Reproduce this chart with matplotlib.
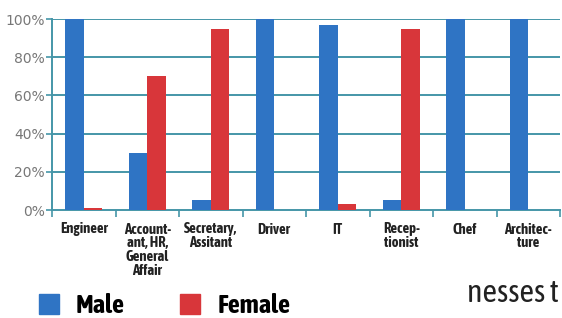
import matplotlib
matplotlib.use("Agg")
import matplotlib.pyplot as plt
from matplotlib.patches import Patch
from matplotlib import font_manager
import numpy as np

categories = ["Engineer", "Account-\nant, HR,\nGeneral\nAffair", "Secretary,\nAssitant", "Driver",
              "IT", "Recep-\ntionist", "Chef", "Architec-\nture"]
male = [100, 30, 5, 100, 97, 5, 100, 100]
female = [1, 70, 95, 0, 3, 95, 0, 0]
yticks = [0, 20, 40, 60, 80, 100]
ytick_labels = ["0%", "20%", "40%", "60%", "80%", "100%"]

BLUE = "#2f74c4"
RED = "#d8363a"
TEAL = "#4596a8"

fams = {}
for f in font_manager.fontManager.ttflist:
    if ("Narrow" in f.name or "Condensed" in f.name):
        w = f.weight if isinstance(f.weight, int) else 400
        fams.setdefault(f.name, set()).add(w)
bold_narrow = sorted(n for n, ws in fams.items()
                     if max(ws) >= 600 and not any(k in n for k in ("Light", "Thin", "Extra", "Semi", "Medium", "Black")))
any_narrow = sorted(n for n in fams if not any(k in n for k in ("Light", "Thin", "Extra")))
pick = bold_narrow[:1] or any_narrow[:1]
NARROW = pick + ["Roboto", "DejaVu Sans"]

W, H = 562, 318
fig = plt.figure(figsize=(W / 100, H / 100), dpi=100)
fig.patch.set_facecolor("white")
ax = fig.add_axes([52 / W, (H - 210) / H, (560 - 52) / W, (210 - 19) / H])

x = np.arange(len(categories))
bw = 0.29
ax.bar(x - bw / 2, male, bw, color=BLUE, zorder=3, label="Male")
ax.bar(x + bw / 2, female, bw, color=RED, zorder=3, label="Female")

ax.set_xlim(-0.5, len(categories) - 0.5)
ax.set_ylim(0, 100)

ax.set_yticks(yticks)
ax.set_yticklabels(ytick_labels, fontsize=10, color="#777777")
ax.tick_params(axis="y", length=4, width=1.2, color=TEAL, pad=1)
for y in yticks[1:]:
    ax.axhline(y, color=TEAL, lw=1.4, zorder=1)

ax.set_xticks(x)
ax.set_xticklabels(categories, fontsize=10.5, fontweight="bold", family=NARROW,
                   color="#222222", linespacing=0.98, va="top")
ax.tick_params(axis="x", which="major", length=0, pad=9)
ax.set_xticks(np.arange(len(categories) + 1) - 0.5, minor=True)
ax.tick_params(axis="x", which="minor", length=5, width=1.2, color=TEAL, direction="out")

for s in ["top", "right"]:
    ax.spines[s].set_visible(False)
for s in ["left", "bottom"]:
    ax.spines[s].set_color(TEAL)
    ax.spines[s].set_linewidth(1.4)

handles = [Patch(color=BLUE, label="Male"), Patch(color=RED, label="Female")]
fig.legend(handles=handles, loc="lower left", bbox_to_anchor=(15 / W, -24 / H), ncol=2,
           frameon=False, prop={"family": NARROW, "weight": "bold", "size": 19},
           handlelength=0.76, handleheight=0.76, handletextpad=0.65, columnspacing=2.1)

fig.text(559 / W, (H - 302) / H, "nesses t", fontsize=23, family=NARROW, color="#222222", ha="right")

fig.savefig("out.png", dpi=100)
